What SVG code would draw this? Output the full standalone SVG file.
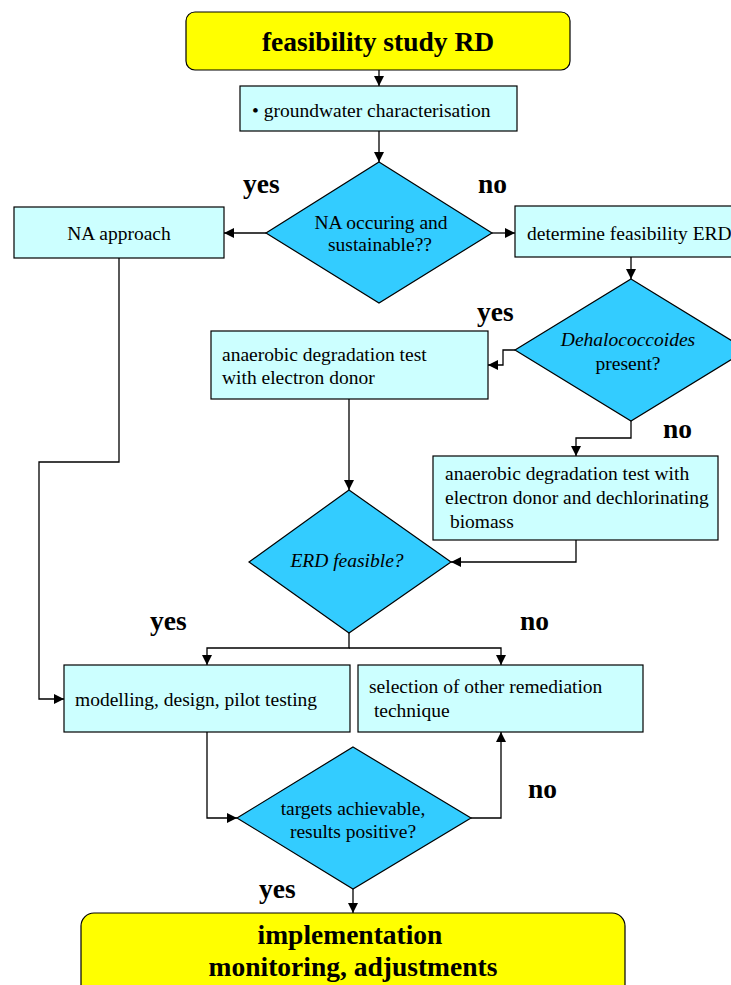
<svg xmlns="http://www.w3.org/2000/svg" width="731" height="985" viewBox="0 0 731 985">
<style>
.term{fill:#FFFF00;stroke:#000;stroke-width:1.2}
.box{fill:#CCFFFF;stroke:#000;stroke-width:1.2}
.dia{fill:#33CCFF;stroke:#000;stroke-width:1.2}
.t{font-family:"Liberation Serif","Times New Roman",serif;font-size:19.5px;fill:#000}
.c{text-anchor:middle}
.i{font-style:italic}
.b{font-family:"Liberation Serif","Times New Roman",serif;font-size:27.5px;font-weight:bold;fill:#000}
.con path{fill:none;stroke:#000;stroke-width:1.3}
</style>
<defs>
<marker id="ah" viewBox="0 0 10 10" refX="10" refY="5" markerWidth="10" markerHeight="10" markerUnits="userSpaceOnUse" orient="auto">
<path d="M0,0 L10,5 L0,10 z" fill="#000"/>
</marker>
</defs>
<rect width="731" height="985" fill="#fff"/>
<g id="connectors" class="con">
<path d="M379,70 V86" marker-end="url(#ah)"/>
<path d="M379,131 V162" marker-end="url(#ah)"/>
<path d="M266,233 H224" marker-end="url(#ah)"/>
<path d="M492,233 H515" marker-end="url(#ah)"/>
<path d="M631,257 V279" marker-end="url(#ah)"/>
<path d="M515,350 H503 V365 H488" marker-end="url(#ah)"/>
<path d="M631,421 V438 H576 V456" marker-end="url(#ah)"/>
<path d="M349,399 V490" marker-end="url(#ah)"/>
<path d="M576,540 V562 H451" marker-end="url(#ah)"/>
<path d="M119,258 V462 H39 V699 H64" marker-end="url(#ah)"/>
<path d="M349,633 V648 H207 V665" marker-end="url(#ah)"/>
<path d="M349,648 H501 V665" marker-end="url(#ah)"/>
<path d="M207,732 V818 H237" marker-end="url(#ah)"/>
<path d="M471,818 H501 V732" marker-end="url(#ah)"/>
<path d="M353,889 V913" marker-end="url(#ah)"/>
</g>
<g id="start">
<rect class="term" x="186" y="12" width="384" height="58" rx="9"/>
<text class="b c" x="378" y="51">feasibility study RD</text>
</g>
<g id="groundwater">
<rect class="box" x="240" y="86" width="277" height="45"/>
<text class="t" x="252" y="117">• groundwater characterisation</text>
</g>
<g id="na-decision">
<polygon class="dia" points="379,162 492,233 379,303 266,233"/>
<text class="t c" x="381" y="229">NA occuring and</text>
<text class="t c" x="380" y="251">sustainable??</text>
</g>
<g id="na-approach">
<rect class="box" x="14" y="207" width="210" height="51"/>
<text class="t c" x="119" y="240">NA approach</text>
</g>
<g id="determine-erd">
<rect class="box" x="515" y="206" width="230" height="51"/>
<text class="t" x="527" y="240">determine feasibility ERD</text>
</g>
<g id="dehalo-decision">
<polygon class="dia" points="631,279 747,350 631,421 515,350"/>
<text class="t c i" x="628" y="346">Dehalococcoides</text>
<text class="t c" x="628" y="370">present?</text>
</g>
<g id="anaerobic-1">
<rect class="box" x="211" y="331" width="277" height="68"/>
<text class="t" x="222" y="361">anaerobic degradation test</text>
<text class="t" x="222" y="384">with electron donor</text>
</g>
<g id="anaerobic-2">
<rect class="box" x="433" y="456" width="285" height="84"/>
<text class="t" x="445" y="480">anaerobic degradation test with</text>
<text class="t" x="445" y="504">electron donor and dechlorinating</text>
<text class="t" x="445" y="528" xml:space="preserve"> biomass</text>
</g>
<g id="erd-decision">
<polygon class="dia" points="349,490 451,562 349,633 249,562"/>
<text class="t c i" x="347" y="567">ERD feasible?</text>
</g>
<g id="modelling">
<rect class="box" x="64" y="665" width="286" height="67"/>
<text class="t" x="75" y="706">modelling, design, pilot testing</text>
</g>
<g id="selection">
<rect class="box" x="358" y="665" width="285" height="67"/>
<text class="t" x="369" y="693">selection of other remediation</text>
<text class="t" x="369" y="717" xml:space="preserve"> technique</text>
</g>
<g id="targets-decision">
<polygon class="dia" points="353,747 471,818 353,889 237,818"/>
<text class="t c" x="353" y="815">targets achievable,</text>
<text class="t c" x="353" y="838">results positive?</text>
</g>
<g id="end">
<rect class="term" x="81" y="913" width="544" height="90" rx="13"/>
<text class="b c" x="350" y="944">implementation</text>
<text class="b c" x="353" y="976">monitoring, adjustments</text>
</g>
<g id="labels">
<text class="b" x="243" y="193">yes</text>
<text class="b" x="478" y="193">no</text>
<text class="b" x="477" y="321">yes</text>
<text class="b" x="663" y="438">no</text>
<text class="b" x="150" y="630">yes</text>
<text class="b" x="520" y="630">no</text>
<text class="b" x="528" y="798">no</text>
<text class="b" x="259" y="898">yes</text>
</g>
</svg>
